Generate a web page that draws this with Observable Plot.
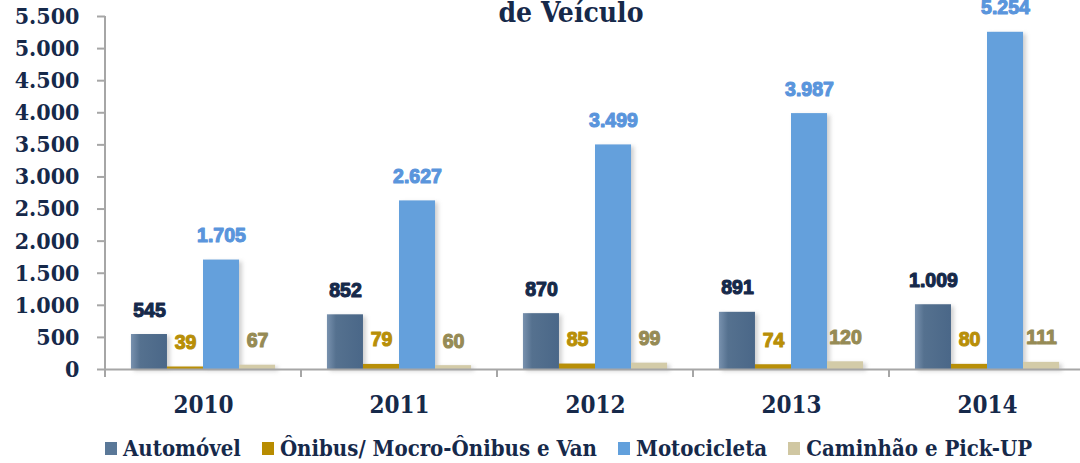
<!DOCTYPE html>
<html><head><meta charset="utf-8">
<script src="https://cdn.jsdelivr.net/npm/d3@7"></script>
<script src="https://cdn.jsdelivr.net/npm/@observablehq/plot@0.6"></script>
<style>
body{margin:0;background:#fff;width:1080px;height:463px;overflow:hidden;position:relative;}
#chart{position:absolute;left:0;top:0;}
#title{position:absolute;left:371px;width:400px;top:-1px;text-align:center;font-family:"DejaVu Serif";font-stretch:condensed;font-weight:bold;font-size:28px;line-height:28px;color:#16294a;}
#legend{position:absolute;left:105px;top:436px;display:flex;font-family:"DejaVu Serif";font-stretch:condensed;font-weight:bold;font-size:22px;line-height:24px;color:#16294a;white-space:nowrap;}
#legend .item{display:flex;align-items:center;margin-right:21px;}
#legend .sw{width:12px;height:13px;margin-right:6px;}
g[aria-label="valores"] text{text-shadow:1px 1px 2px rgba(0,0,0,0.3);}
</style></head>
<body>
<div id="chart"></div>
<div id="title">de Veículo</div>
<div id="legend"></div>
<script>
const years = ["2010","2011","2012","2013","2014"];
const types = ["Automóvel","Ônibus/ Mocro-Ônibus e Van","Motocicleta","Caminhão e Pick-UP"];
const automovel = [545, 852, 870, 891, 1009];
const onibus = [39, 79, 85, 74, 80];
const motocicleta = [1705, 2627, 3499, 3987, 5254];
const caminhao = [67, 60, 99, 120, 111];
const yTicks = [0,500,1000,1500,2000,2500,3000,3500,4000,4500,5000,5500];
const barColors = ["url(#gradAuto)", "#b88f08", "#64a0dc", "#d3cba8"];
const legendColors = ["#5a7898", "#b88c00", "#62a0dc", "#d0c7a2"];
const labelColors = ["#16294a", "#b88f08", "#5a95dc", "#968b55"];

const series = [automovel, onibus, motocicleta, caminhao];
const data = years.flatMap((yr, i) => types.map((t, k) => ({year: yr, type: t, value: series[k][i]})));
const fmt = d3.formatLocale({decimal: ",", thousands: ".", grouping: [3], currency: ["R$", ""]}).format(",d");

const serif = "DejaVu Serif Condensed, DejaVu Serif";
const navy = "#16294a";

const plot = Plot.plot({
  width: 1080, height: 428,
  marginTop: 16, marginBottom: 59, marginLeft: 104, marginRight: 0,
  style: {background: "white", overflow: "visible"},
  fx: {domain: years, range: [104, 1085], padding: 0, axis: null},
  x: {domain: types, paddingInner: 0, paddingOuter: 0.72, round: false, axis: null},
  y: {domain: [0, 5500], axis: null},
  color: {domain: types, range: barColors},
  marks: [
    Plot.barY(data, {fx: "year", x: "type", y: "value", fill: "#666", fillOpacity: 0.3, dx: 3, dy: 2, imageFilter: "blur(2px)"}),
    Plot.barY(data, {fx: "year", x: "type", y: "value", fill: "type"}),
    Plot.ruleY([0], {stroke: "#a6a6a6", strokeWidth: 2}),
    ...types.map((t, k) => Plot.text(data.filter(d => d.type === t), {
      fx: "year", x: "type", y: "value", text: d => fmt(d.value),
      lineAnchor: "bottom", dy: -18, fill: labelColors[k], stroke: labelColors[k], strokeWidth: 1.1,
      fontFamily: "Liberation Sans, Arial, sans-serif", fontWeight: "bold", fontSize: 19.5, ariaLabel: "valores"
    })),
    Plot.axisY(yTicks, {label: null, tickSize: 8, tickPadding: 18, tickFormat: fmt, stroke: "#a6a6a6", strokeWidth: 2,
      fill: navy, fontFamily: serif, fontWeight: "bold", fontSize: 23}),
    Plot.text(years, {fx: d => d, text: d => d, frameAnchor: "bottom", lineAnchor: "bottom", dy: 43,
      fill: navy, fontFamily: serif, fontWeight: "bold", fontSize: 24})
  ]
});

const svg = d3.select(plot);
svg.selectAll("text").style("font-stretch", "condensed");
const defs = svg.insert("defs", ":first-child");
const g = defs.append("linearGradient").attr("id", "gradAuto").attr("x1", 0).attr("x2", 1).attr("y1", 0).attr("y2", 0);
g.append("stop").attr("offset", "0%").attr("stop-color", "#7891ae");
g.append("stop").attr("offset", "25%").attr("stop-color", "#55718f");
g.append("stop").attr("offset", "100%").attr("stop-color", "#4a6788");

const fxS = plot.scale("fx"), yS = plot.scale("y");
const y0 = yS.apply(0), yTop = yS.apply(5500);
const x0 = fxS.apply(years[0]);
svg.append("line").attr("x1", x0).attr("x2", x0).attr("y1", yTop).attr("y2", y0 + 1)
  .attr("stroke", "#a6a6a6").attr("stroke-width", 2);
const bounds = years.map(y => fxS.apply(y)).concat([fxS.apply(years[years.length - 1]) + fxS.bandwidth]);
bounds.forEach(b => svg.append("line").attr("x1", b).attr("x2", b).attr("y1", y0).attr("y2", y0 + 8)
  .attr("stroke", "#a6a6a6").attr("stroke-width", 2));

document.getElementById("chart").appendChild(plot);

const legend = d3.select("#legend");
types.forEach((t, k) => {
  const it = legend.append("div").attr("class", "item");
  it.append("div").attr("class", "sw").style("background", legendColors[k]);
  it.append("span").text(t);
});
</script>
</body></html>
